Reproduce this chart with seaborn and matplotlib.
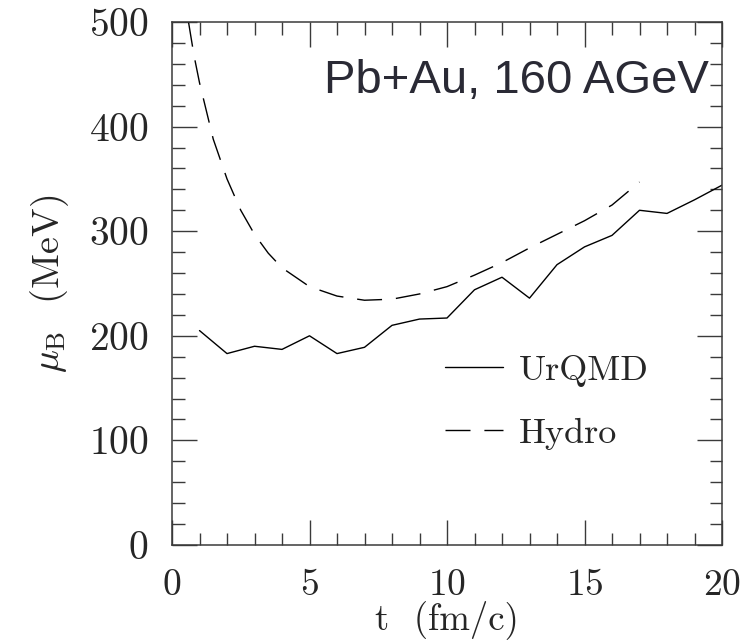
import numpy as np
import pandas as pd
import seaborn as sns
import matplotlib
matplotlib.use("Agg")
import matplotlib.pyplot as plt
from matplotlib.ticker import MultipleLocator

# ---- data ----
t_urqmd = [1, 2, 3, 4, 5, 6, 7, 8, 9, 10, 11, 12, 13, 14, 15, 16, 17, 18, 19, 20]
mu_urqmd = [205, 183, 190, 187, 200, 183, 189, 210, 216, 217, 244, 256, 236, 268,
            285, 296, 320, 317, 330, 344]

t_hydro = [0.6, 0.8, 1.0, 1.5, 2.0, 2.5, 3.0, 3.5, 4.0, 5.0, 6.0, 7.0, 8.0, 9.0,
           10.0, 11.0, 12.0, 13.0, 14.0, 15.0, 16.0, 17.0]
mu_hydro = [500, 468, 442, 388, 350, 320, 297, 279, 265, 247, 238, 234, 235, 240,
            247, 258, 270, 284, 297, 310, 325, 347]

series_labels = ["UrQMD", "Hydro"]
title_text = "Pb+Au, 160 AGeV"
x_label = "t  (fm/c)"
y_label = r"$\mu_{\rm B}$  (MeV)"

# ---- style ----
sns.set_style("ticks")
plt.rcParams["font.family"] = ["cmr10", "DejaVu Serif"]
plt.rcParams["mathtext.fontset"] = "cm"
plt.rcParams["axes.formatter.use_mathtext"] = True

fig = plt.figure(figsize=(7.54, 6.41), dpi=100)
ax = fig.add_axes([172 / 754, 96 / 641, 550 / 754, 523 / 641])

df_u = pd.DataFrame({"t": t_urqmd, "mu": mu_urqmd})
df_h = pd.DataFrame({"t": t_hydro, "mu": mu_hydro})

sns.lineplot(data=df_u, x="t", y="mu", ax=ax, color="black", lw=1.0,
             errorbar=None, label=series_labels[0])
sns.lineplot(data=df_h, x="t", y="mu", ax=ax, color="black", lw=1.0,
             errorbar=None, label=series_labels[1], linestyle=(0, (18, 10)))

ax.set_xlim(0, 20)
ax.set_ylim(0, 500)
ax.xaxis.set_major_locator(MultipleLocator(5))
ax.xaxis.set_minor_locator(MultipleLocator(1))
ax.yaxis.set_major_locator(MultipleLocator(100))
ax.yaxis.set_minor_locator(MultipleLocator(20))

spine_col = "#3a3a3a"
for s in ax.spines.values():
    s.set_visible(True)
    s.set_color(spine_col)
    s.set_linewidth(1.1)

ax.tick_params(which="both", direction="in", top=True, right=True,
               color=spine_col, width=1.0)
ax.tick_params(which="major", length=18)
ax.tick_params(which="minor", length=9)
ax.tick_params(axis="x", which="major", labelsize=27, pad=17)
ax.tick_params(axis="y", which="major", labelsize=28.5, pad=17)

ax.set_xlabel(x_label, fontsize=26.5)
ax.xaxis.set_label_coords(0.5, -0.106)
ax.set_ylabel(y_label, fontsize=27.5)
ax.yaxis.set_label_coords(-0.183, 0.5)

ax.text(0.976, 0.865, title_text, transform=ax.transAxes, ha="right",
        va="baseline", fontsize=34, color="#2a2a35",
        family=["Liberation Sans", "DejaVu Sans"])

leg = ax.legend(loc="upper left", bbox_to_anchor=(0.47, 0.392), frameon=False,
                fontsize=26, handlelength=1.6, handletextpad=0.45,
                labelspacing=0.85, borderaxespad=0)

fig.savefig("out.png", dpi=100)
